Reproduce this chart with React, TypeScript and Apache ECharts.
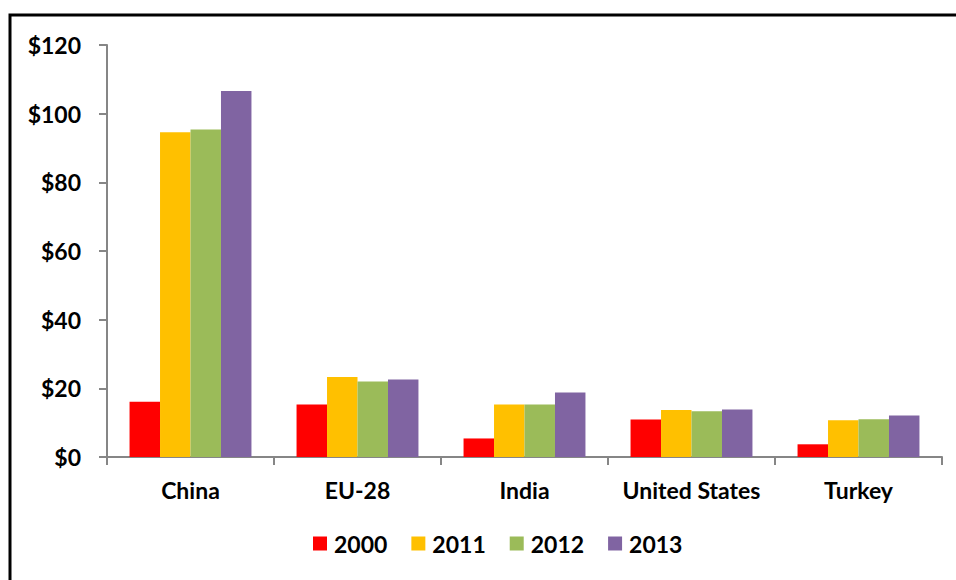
import React, { useEffect, useRef } from "react";
import * as echarts from "echarts";

const categories = ["China", "EU-28", "India", "United States", "Turkey"];
const seriesNames = ["2000", "2011", "2012", "2013"];
const values2000 = [16.1, 15.3, 5.4, 10.9, 3.7];
const values2011 = [94.6, 23.3, 15.3, 13.7, 10.7];
const values2012 = [95.4, 22.0, 15.3, 13.3, 11.0];
const values2013 = [106.6, 22.6, 18.8, 13.8, 12.1];
const colors = ["#FF0000", "#FFC000", "#9BBB59", "#8064A2"];

const FONT = "Lato, 'Open Sans', sans-serif";

export default function App() {
  const ref = useRef<HTMLDivElement>(null);
  useEffect(() => {
    if (!ref.current) return;
    const chart = echarts.init(ref.current, undefined, { renderer: "svg" });
    const data = [values2000, values2011, values2012, values2013];
    chart.setOption({
      animation: false,
      backgroundColor: "#ffffff",
      grid: { left: 107, right: 14, top: 45, bottom: 123, containLabel: false },
      graphic: [
        {
          type: "rect",
          shape: { x: 10, y: 15, width: 1200, height: 1000 },
          style: { fill: "none", stroke: "#000000", lineWidth: 3 },
          silent: true,
          z: 100,
        },
      ],
      legend: {
        data: seriesNames,
        bottom: 20,
        left: 308,
        itemWidth: 14,
        itemHeight: 14,
        itemGap: 24,
        icon: "rect",
        textStyle: { fontFamily: FONT, fontWeight: "bold", fontSize: 23, color: "#000", padding: [0, 0, 0, 2] },
      },
      xAxis: {
        type: "category",
        data: categories,
        axisLine: { lineStyle: { color: "#868686", width: 2 } },
        axisTick: { show: true, length: 8, lineStyle: { color: "#868686", width: 2 }, alignWithLabel: false },
        axisLabel: { interval: 0, margin: 21, fontFamily: FONT, fontWeight: "bold", fontSize: 23, color: "#000" },
        splitLine: { show: false },
      },
      yAxis: {
        type: "value",
        min: 0,
        max: 120,
        interval: 20,
        axisLine: { show: true, lineStyle: { color: "#868686", width: 2 } },
        axisTick: { show: true, length: 8, lineStyle: { color: "#868686", width: 2 } },
        axisLabel: {
          margin: 26,
          fontFamily: FONT,
          fontWeight: "bold",
          fontSize: 23,
          color: "#000",
          formatter: (v: number) => "$" + v,
        },
        splitLine: { show: false },
      },
      series: seriesNames.map((name, i) => ({
        name,
        type: "bar",
        data: data[i],
        barGap: "0%",
        barCategoryGap: "27%",
        itemStyle: { color: colors[i] },
      })),
    });
    return () => chart.dispose();
  }, []);
  return (
    <div
      ref={ref}
      style={{ position: "absolute", left: 0, top: 0, width: 956, height: 580 }}
    />
  );
}
